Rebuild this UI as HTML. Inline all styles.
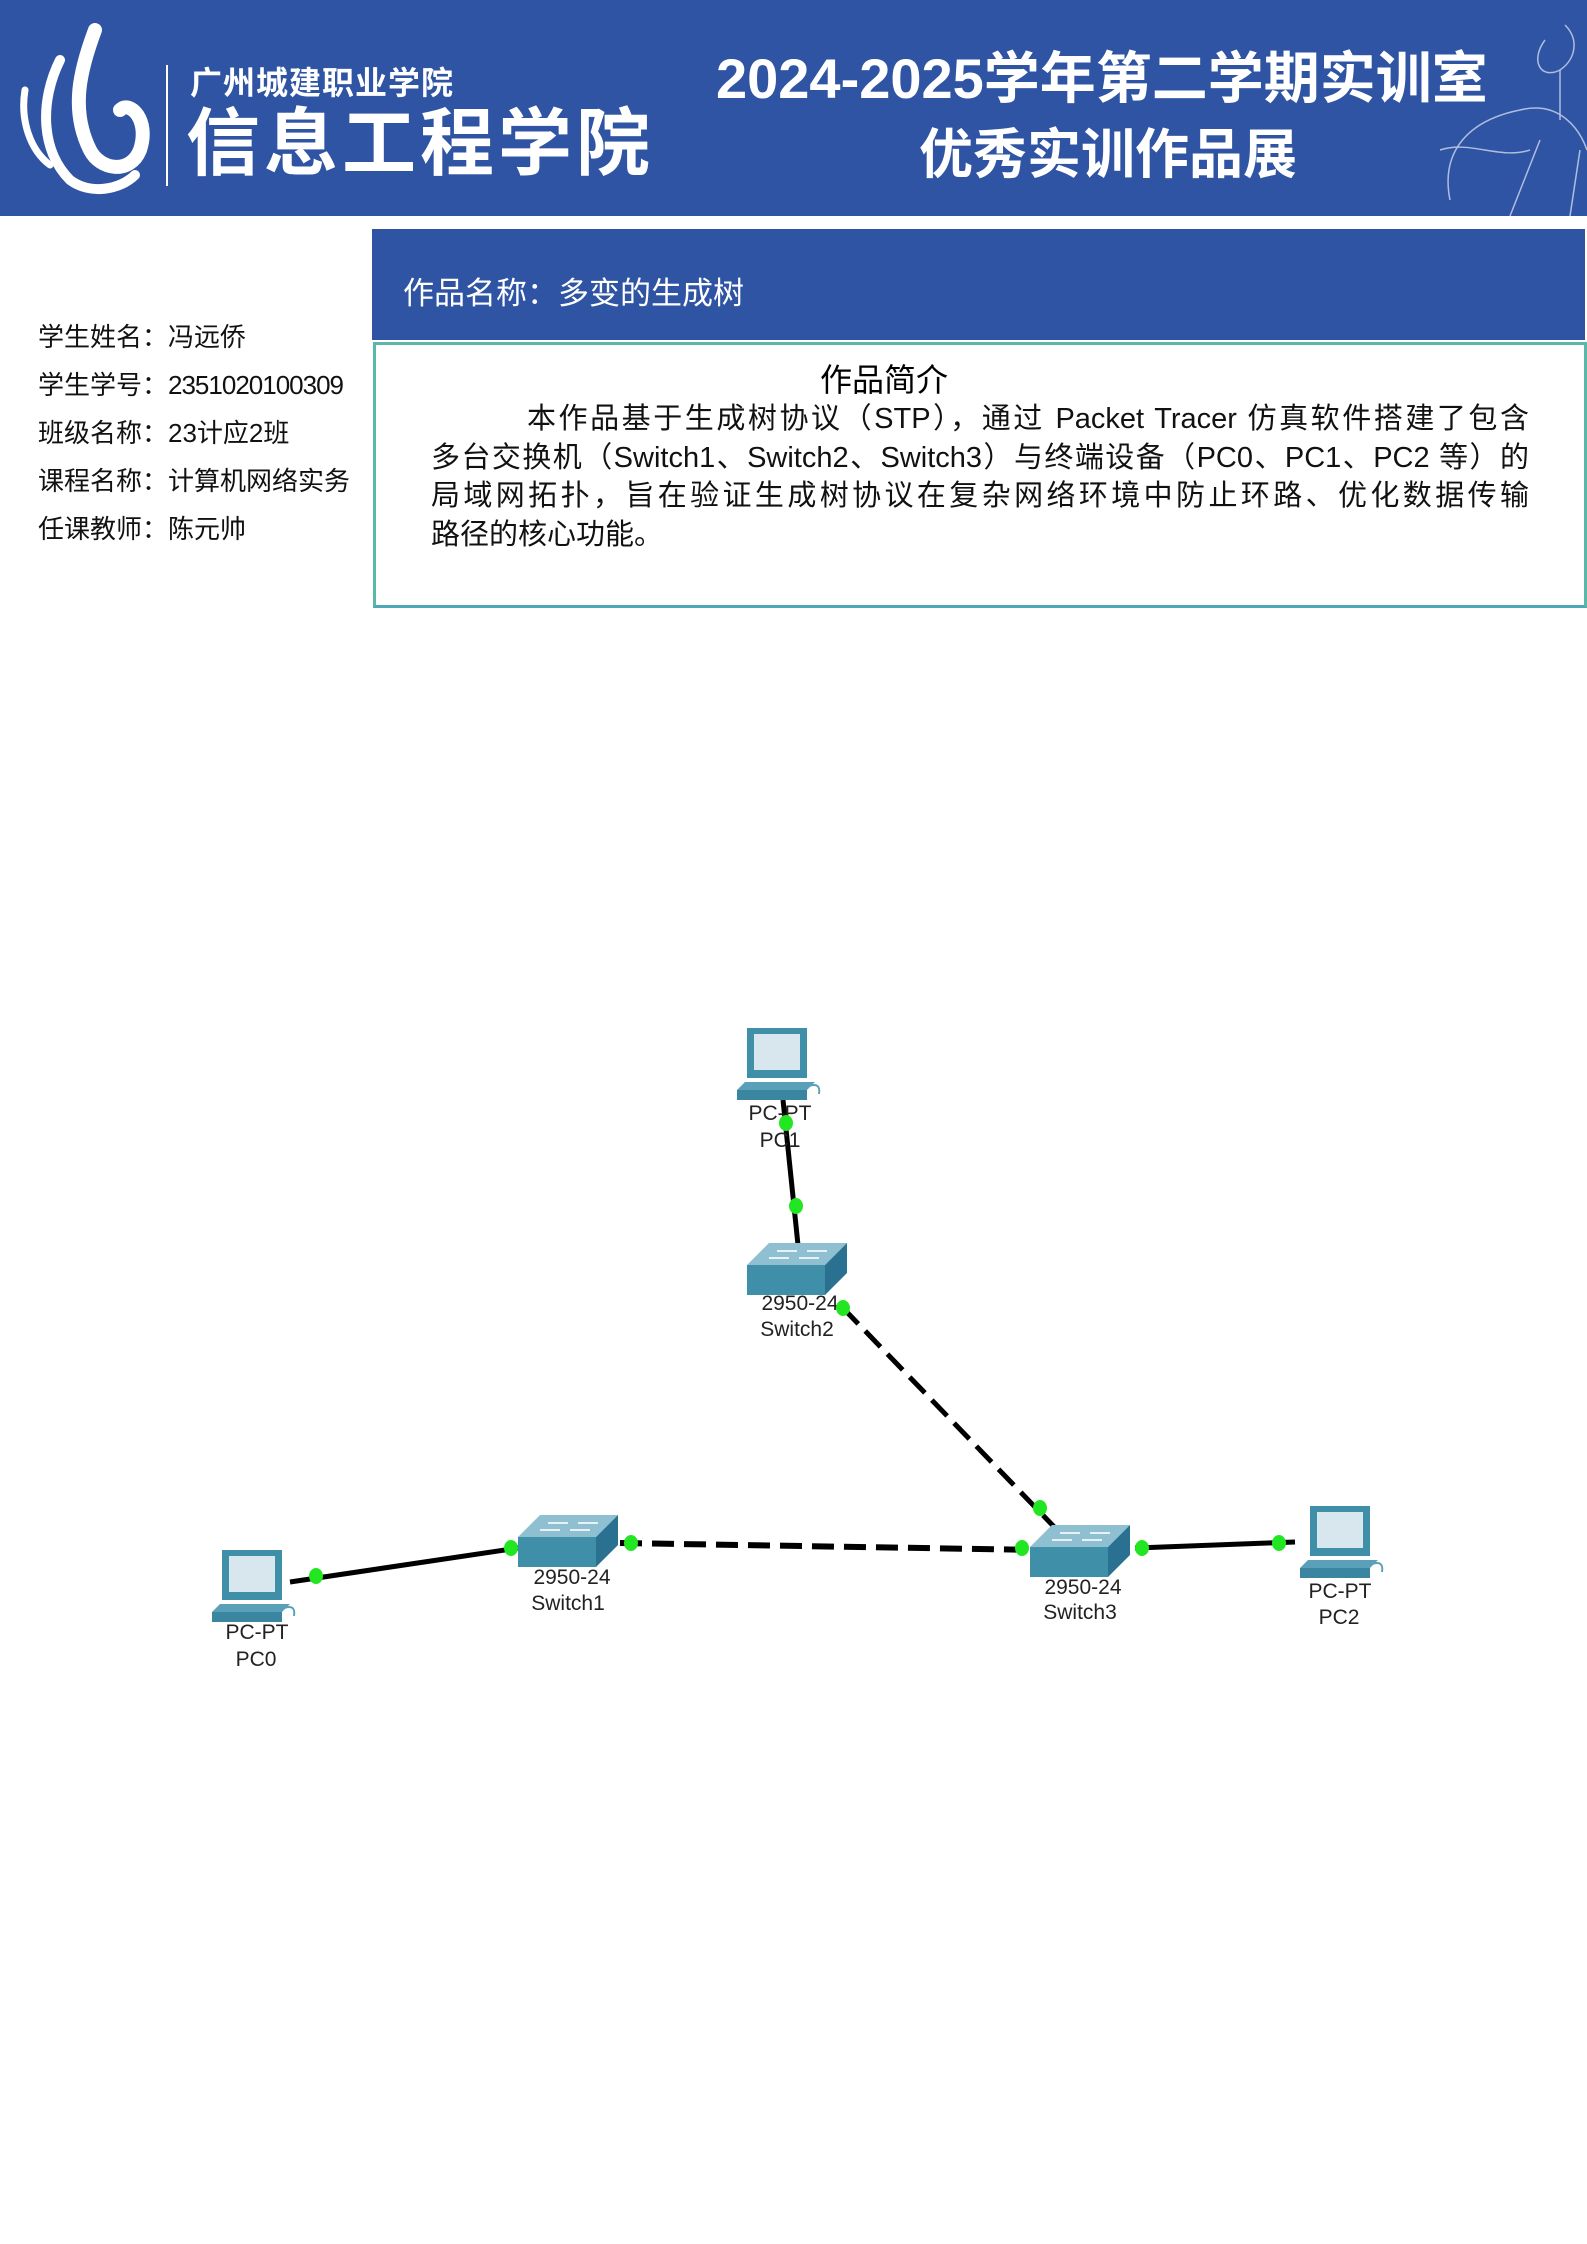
<!DOCTYPE html>
<html><head><meta charset="utf-8"><style>
body{margin:0;width:1587px;height:2244px;background:#fff;position:relative;overflow:hidden;font-family:"Liberation Sans","Noto Sans CJK SC",sans-serif}
.a{position:absolute;white-space:nowrap}
.p div{text-align:justify;text-align-last:justify;height:38.5px}
</style></head><body>
<div class="a" style="left:0;top:0;width:1587px;height:216px;background:#2f54a3"></div>
<svg class="a" style="left:0;top:0" width="1587" height="216">
<g fill="none" stroke="#fff" stroke-linecap="round">
<path d="M95 30 C80 70 70 110 90 150 C100 170 130 175 140 150 C150 120 130 100 120 110" stroke-width="14"/>
<path d="M60 60 C40 100 40 150 70 180 C90 195 120 190 135 175" stroke-width="10"/>
<path d="M25 90 C20 120 30 150 50 165" stroke-width="7"/>
</g>
<line x1="167" y1="65" x2="167" y2="186" stroke="#fff" stroke-width="2"/>
<g fill="none" stroke="#cfd8ee" stroke-width="1.5" opacity="0.8">
<path d="M1450 200 C1440 150 1470 120 1520 110 C1560 100 1580 130 1587 150"/>
<path d="M1440 150 C1470 140 1500 160 1530 150"/>
<path d="M1545 40 C1530 60 1540 80 1560 70 C1575 60 1580 40 1565 25"/>
<path d="M1560 70 L1560 120 M1510 216 L1540 140 M1570 216 L1580 150"/>
</g>
</svg>
<div class="a" style="left:190px;top:58px;font-size:32px;font-weight:bold;color:#fff;letter-spacing:1px">广州城建职业学院</div>
<div class="a" style="left:186px;top:104px;font-size:74px;font-weight:bold;color:#fff;letter-spacing:4px;line-height:80px">信息工程学院</div>
<div class="a" style="left:716px;top:44px;font-size:56px;font-weight:bold;color:#fff;line-height:70px">2024-2025学年第二学期实训室</div>
<div class="a" style="left:919px;top:122px;font-size:54px;font-weight:bold;color:#fff;line-height:66px">优秀实训作品展</div>

<div class="a" style="left:372px;top:229px;width:1213px;height:111px;background:#2f54a3"></div>
<div class="a" style="left:403px;top:268px;font-size:31px;color:#fff">作品名称：多变的生成树</div>
<div class="a" style="left:373px;top:342px;width:1208px;height:260px;border:3px solid #5ab8a8;border-bottom-color:#4fa8b8"></div>
<div class="a" style="left:820px;top:355px;font-size:32px;color:#000">作品简介</div>
<div class="a p" style="left:431px;top:400px;width:1098px;font-size:29px;line-height:38.5px;color:#111;white-space:nowrap">
<div style="padding-left:96px">本作品基于生成树协议（STP），通过 Packet Tracer 仿真软件搭建了包含</div>
<div>多台交换机（Switch1、Switch2、Switch3）与终端设备（PC0、PC1、PC2 等）的</div>
<div>局域网拓扑，旨在验证生成树协议在复杂网络环境中防止环路、优化数据传输</div>
<div style="text-align-last:left">路径的核心功能。</div>
</div>
<div class="a" style="left:38px;top:313px;font-size:26px;line-height:48px;color:#111">学生姓名：冯远侨<br>学生学号：<span style="letter-spacing:-1px">2351020100309</span><br>班级名称：23计应2班<br>课程名称：计算机网络实务<br>任课教师：陈元帅</div>

<svg class="a" style="left:0;top:0" width="1587" height="2244" font-family="Liberation Sans, sans-serif" font-size="21" fill="#222">
<defs>
<g id="pc">
<rect x="10" y="0" width="60" height="50" fill="#3f8fa8"/>
<rect x="17" y="6" width="46" height="36" fill="#d8e6ee"/>
<polygon points="0,62 70,62 78,54 8,54" fill="#5aa0b8"/>
<rect x="0" y="62" width="70" height="10" fill="#3a86a0"/>
<path d="M72 58 q12 -4 10 8" stroke="#5aa0b8" stroke-width="2" fill="none"/>
</g>
<g id="sw">
<polygon points="0,22 22,0 100,0 78,22" fill="#8ec0d2"/>
<polygon points="0,22 78,22 78,52 0,52" fill="#3f8fa8"/>
<polygon points="78,22 100,0 100,30 78,52" fill="#2a7090"/>
<g stroke="#e8f2f6" stroke-width="2"><line x1="30" y1="8" x2="50" y2="8"/><line x1="60" y1="8" x2="80" y2="8"/><line x1="22" y1="15" x2="42" y2="15"/><line x1="52" y1="15" x2="72" y2="15"/></g>
</g>
</defs>
<g stroke="#000" stroke-width="5">
<line x1="290" y1="1582" x2="525" y2="1547"/>
<line x1="783" y1="1100" x2="798" y2="1245"/>
<line x1="1135" y1="1548" x2="1295" y2="1542"/>
<line x1="620" y1="1543" x2="1040" y2="1550" stroke-dasharray="22,10" stroke-width="6"/>
<line x1="843" y1="1308" x2="1062" y2="1535" stroke-dasharray="22,10"/>
</g>
<use href="#pc" x="737" y="1028"/>
<use href="#sw" x="747" y="1243"/>
<use href="#sw" x="1030" y="1525"/>
<use href="#sw" x="518" y="1515"/>
<use href="#pc" x="1300" y="1506"/>
<use href="#pc" x="212" y="1550"/>
<g text-anchor="middle">
<text x="780" y="1120">PC-PT</text><text x="780" y="1147">PC1</text>
<text x="800" y="1310">2950-24</text><text x="797" y="1336">Switch2</text>
<text x="1083" y="1594">2950-24</text><text x="1080" y="1619">Switch3</text>
<text x="1340" y="1598">PC-PT</text><text x="1339" y="1624">PC2</text>
<text x="572" y="1584">2950-24</text><text x="568" y="1610">Switch1</text>
<text x="257" y="1639">PC-PT</text><text x="256" y="1666">PC0</text>
</g>
<g fill="#22e622">
<ellipse cx="786" cy="1123" rx="7" ry="8"/><ellipse cx="796" cy="1206" rx="7" ry="8"/>
<ellipse cx="843" cy="1308" rx="7" ry="8"/><ellipse cx="1040" cy="1508" rx="7" ry="8"/>
<ellipse cx="1022" cy="1548" rx="7" ry="8"/><ellipse cx="1142" cy="1548" rx="7" ry="8"/>
<ellipse cx="1279" cy="1543" rx="7" ry="8"/><ellipse cx="511" cy="1548" rx="7" ry="8"/>
<ellipse cx="631" cy="1543" rx="7" ry="8"/><ellipse cx="316" cy="1576" rx="7" ry="8"/>
</g>
</svg>
</body></html>
